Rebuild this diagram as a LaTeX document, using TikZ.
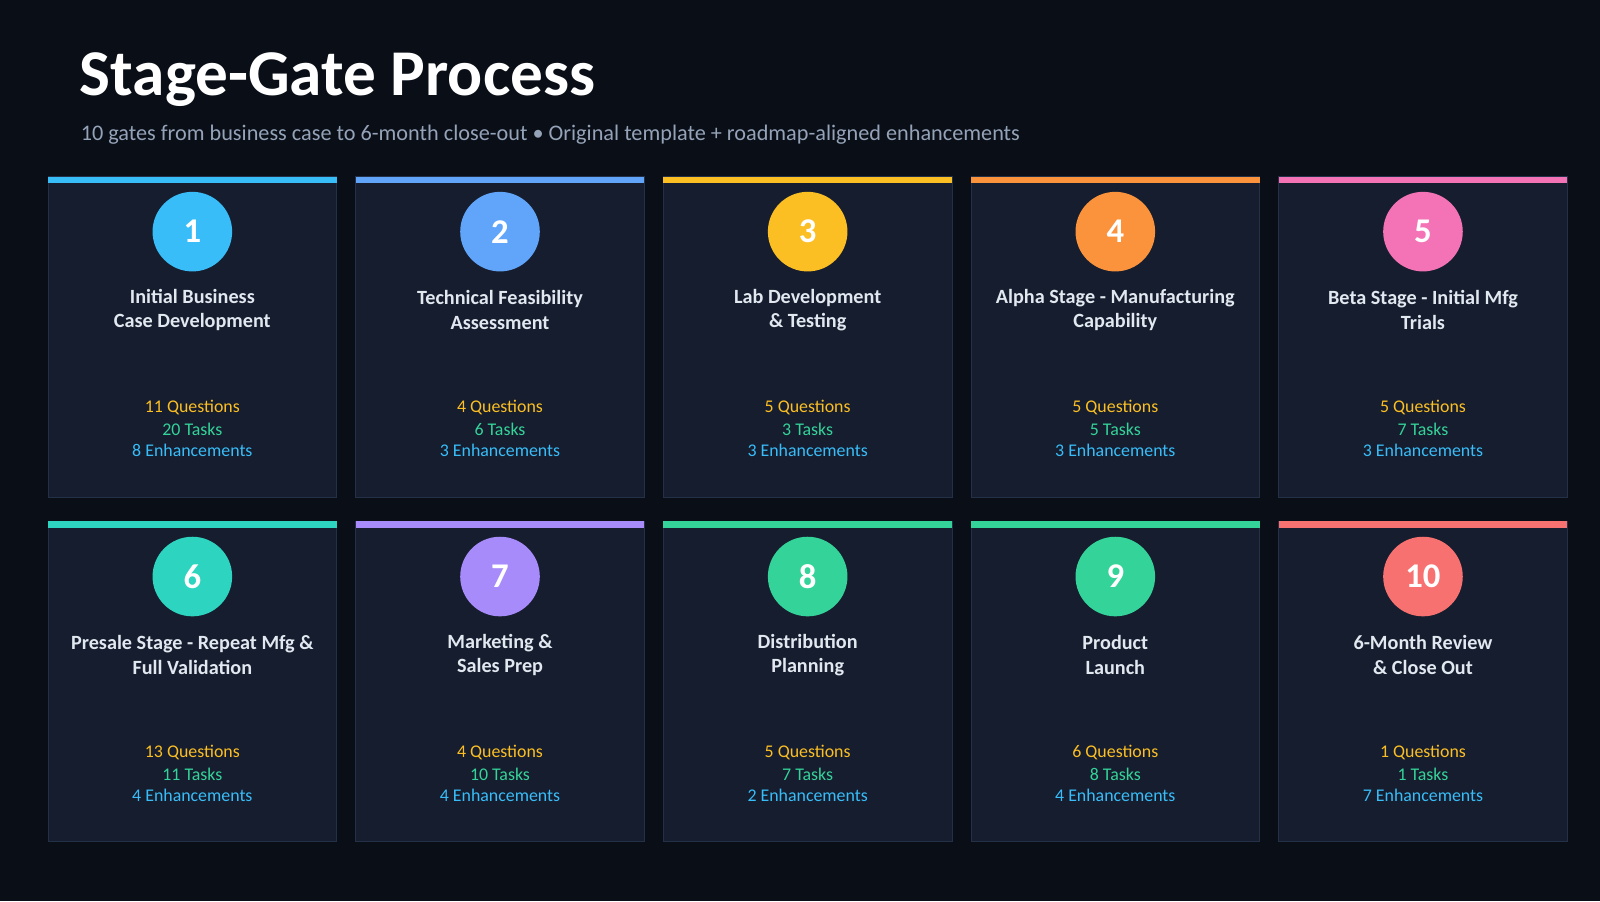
\documentclass[tikz,border=0pt]{standalone}
\usepackage{fontspec}
\setmainfont{Carlito}
\begin{document}
\definecolor{bg}{HTML}{0A0E17}
\definecolor{card}{HTML}{161D2E}
\definecolor{cardb}{HTML}{243047}
\definecolor{qc}{HTML}{FBBF24}
\definecolor{tc}{HTML}{34D399}
\definecolor{ec}{HTML}{38BDF8}
\definecolor{sub}{HTML}{94A3B8}
\definecolor{ttl}{HTML}{E2E8F0}
\definecolor{c1}{HTML}{38BDF8}
\definecolor{c2}{HTML}{60A5FA}
\definecolor{c3}{HTML}{FBBF24}
\definecolor{c4}{HTML}{FB923C}
\definecolor{c5}{HTML}{F472B6}
\definecolor{c6}{HTML}{2DD4BF}
\definecolor{c7}{HTML}{A78BFA}
\definecolor{c8}{HTML}{34D399}
\definecolor{c9}{HTML}{34D399}
\definecolor{c10}{HTML}{F87171}
\begin{tikzpicture}[x=1pt,y=-1pt,
  cardbox/.style={fill=card,draw=cardb,line width=0.8pt},
  num/.style={circle,minimum size=78pt,inner sep=0pt,text=white,font=\fontsize{34}{34}\selectfont\bfseries},
  ctitle/.style={text=ttl,align=center,font=\fontsize{19.8}{24}\selectfont\bfseries},
  stat/.style={font=\fontsize{17.5}{17.5}\selectfont,inner sep=0pt}]
\fill[bg] (0,0) rectangle (1568,883);
\useasboundingbox (0,0) rectangle (1568,883);
\node[anchor=west,text=white,font=\fontsize{64}{64}\selectfont\bfseries,inner sep=0pt] (title) at (78,78) {Stage-Gate Process};
\node[anchor=west,text=sub,font=\fontsize{21.8}{21.8}\selectfont,inner sep=0pt] (subtitle) at (79,132) {10 gates from business case to 6-month close-out • Original template + roadmap-aligned enhancements};
\foreach \i/\t/\q/\k/\e in {
 1/{Initial Business\\Case Development}/11/20/8,
 2/{Technical Feasibility\\Assessment}/4/6/3,
 3/{Lab Development\\\& Testing}/5/3/3,
 4/{Alpha Stage - Manufacturing\\Capability}/5/5/3,
 5/{Beta Stage - Initial Mfg\\Trials}/5/7/3,
 6/{Presale Stage - Repeat Mfg \&\\Full Validation}/13/11/4,
 7/{Marketing \&\\Sales Prep}/4/10/4,
 8/{Distribution\\Planning}/5/7/2,
 9/{Product\\Launch}/6/8/4,
 10/{6-Month Review\\\& Close Out}/1/1/7}{
  \pgfmathtruncatemacro{\col}{mod(\i-1,5)}
  \pgfmathtruncatemacro{\row}{(\i-1)/5}
  \pgfmathsetmacro{\xl}{47+301.5*\col}
  \pgfmathsetmacro{\xc}{\xl+141.5}
  \pgfmathsetmacro{\yt}{173+338*\row}
  \draw[cardbox] (\xl,\yt) rectangle ++(283,314);
  \fill[c\i] (\xl,\yt) rectangle ++(283,6);
  \node[num,fill=c\i] (n\i) at (\xc,\yt+54) {\i};
  \node[ctitle] (t\i) at (\xc,\yt+131) {\t};
  \node[stat,text=qc] (q\i) at (\xc,\yt+226) {\q\ Questions};
  \node[stat,text=tc] (k\i) at (\xc,\yt+248) {\k\ Tasks};
  \node[stat,text=ec] (e\i) at (\xc,\yt+268) {\e\ Enhancements};
}
\end{tikzpicture}
\end{document}
